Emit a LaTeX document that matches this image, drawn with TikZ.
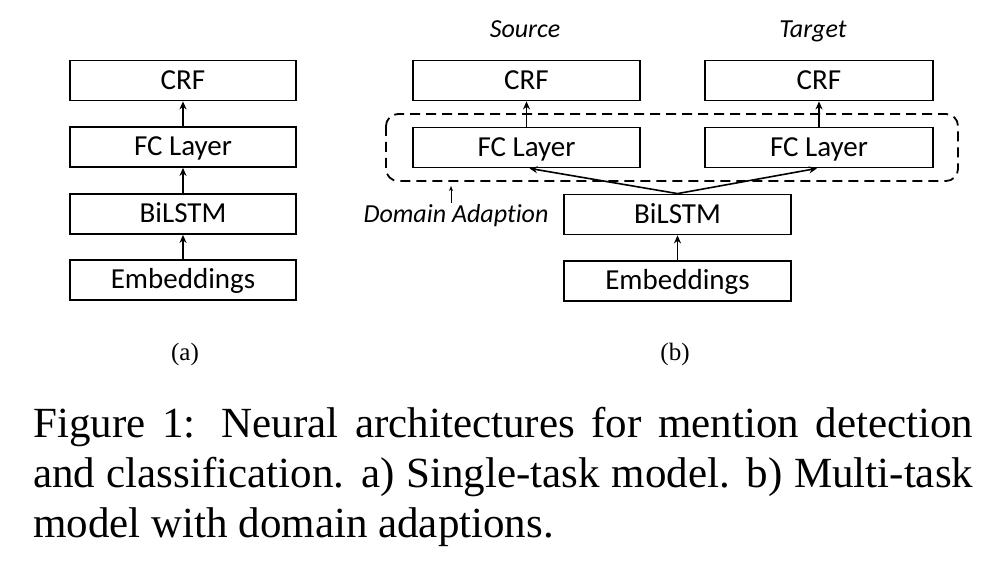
\documentclass[tikz,border=0pt]{standalone}
\usepackage{fontspec}
\setmainfont{Liberation Serif}
\newfontfamily\boxfont[Ligatures=CommonOff]{Carlito}
\usetikzlibrary{arrows.meta}
\tikzset{
  blk/.style={draw=black, line width=1.8pt, inner sep=0pt, minimum height=40pt,
    text height=18pt, text depth=0pt,
    font=\boxfont\fontsize{29}{32}\selectfont},
  wa/.style={blk, minimum width=226pt},
  ar/.style={line width=1.6pt, -{Stealth[length=8pt,width=7pt]}},
  lbl/.style={font=\boxfont\itshape\fontsize{26}{30}\selectfont, inner sep=0pt, anchor=base},
  sublbl/.style={font=\fontsize{25}{30}\selectfont, inner sep=0pt},
  captxt/.style={font=\fontsize{43}{50}\selectfont, inner sep=0pt, anchor=base west},
}
\begin{document}
\begin{tikzpicture}[x=1pt,y=-1pt]
\path[use as bounding box, fill=white] (0,0) rectangle (1002,580);
% (a)
\node[wa] (acrf) at (183,80.5) {CRF};
\node[wa] (afc)  at (183,147) {FC Layer};
\node[wa] (abil) at (183,214) {BiLSTM};
\node[wa] (aemb) at (183,280) {Embeddings};
\draw[ar] (aemb.north) -- (abil.south);
\draw[ar] (abil.north) -- (afc.south);
\draw[ar] (afc.north) -- (acrf.south);
% (b)
\node[lbl] (src) at (525,38) {Source};
\node[lbl] (tgt) at (813,38) {Target};
\node[wa, minimum width=227pt] (scrf) at (526.5,80.5) {CRF};
\node[wa, minimum width=227pt] (sfc)  at (526.5,147.5) {FC Layer};
\node[wa, minimum width=228pt] (tcrf) at (819,80.5) {CRF};
\node[wa, minimum width=228pt] (tfc)  at (819,147.5) {FC Layer};
\node[wa, minimum width=227pt] (bbil) at (677.5,214.5) {BiLSTM};
\node[wa, minimum width=227pt] (bemb) at (677.5,281) {Embeddings};
\draw[line width=1.8pt, dash pattern=on 10pt off 6pt, rounded corners=12pt]
  (386,114) rectangle (958,181);
\draw[ar] (bemb.north) -- (bbil.south);
\draw[ar] (bbil.north) -- ([xshift=3pt]sfc.south);
\draw[ar] (bbil.north) -- ([xshift=-2pt]tfc.south);
\draw[ar] (sfc.north) -- (scrf.south);
\draw[ar] (tfc.north) -- (tcrf.south);
\node[lbl] (dom) at (456,223) {Domain Adaption};
\coordinate (dstart) at (451,203);
\coordinate (dend) at (451,186);
\draw[line width=0.8pt, -{Stealth[length=5pt,width=4pt]}] (dstart) -- (dend);
% sub labels
\node[sublbl] (la) at (185,354) {(a)};
\node[sublbl] (lb) at (675,354) {(b)};
% caption
\node[captxt] (c1) at (33,437) {\makebox[940pt][s]{Figure 1: Neural architectures for mention detection}};
\node[captxt] (c2) at (33,487) {\makebox[940pt][s]{and classification. a) Single-task model. b) Multi-task}};
\node[captxt] (c3) at (33,537) {model with domain adaptions.};
\end{tikzpicture}
\end{document}
